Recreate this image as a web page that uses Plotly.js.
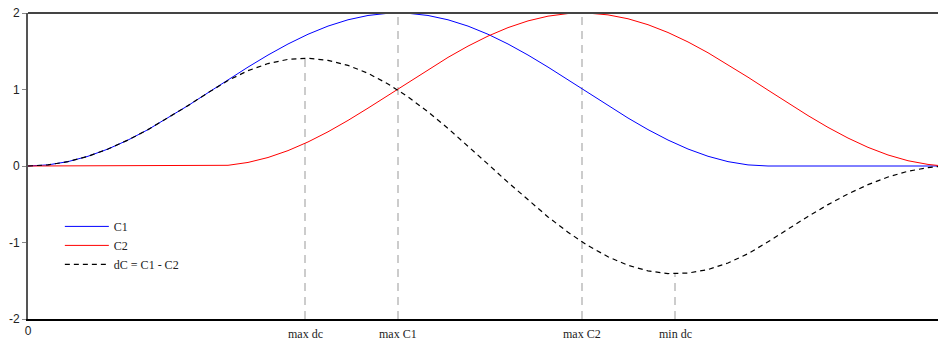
<!DOCTYPE html>
<html>
<head>
<meta charset="utf-8">
<script src="https://cdn.plot.ly/plotly-3.0.1.min.js"></script>
<style>html,body{margin:0;padding:0;background:#fff;}#chart{width:939px;height:345px;}</style>
</head>
<body>
<div id="chart"></div>
<script>
// x samples (arbitrary units, axis shows only the origin)
const xs = [0,2,4,6,8,10,12,14,16,18,20,22,24,26,28,30,32,34,36,38,40,42,44,46,48,50,52,54,56,58,60,62,64,66,68,70,72,74,76,78,80,82,84,86,88,90,91];
const c1 = [0,0.0144,0.0571,0.1270,0.2220,0.3394,0.4757,0.6272,0.7893,0.9576,1.1270,1.2928,1.4502,1.5946,1.7221,1.8287,1.9113,1.9677,1.9964,1.9964,1.9677,1.9113,1.8287,1.7221,1.5946,1.4502,1.2928,1.1270,0.9576,0.7893,0.6272,0.4757,0.3394,0.2220,0.1270,0.0571,0.0144,0,0,0,0,0,0,0,0,0,0];
const c2 = [0,0,0,0,0,0,0,0,0,0,0.0092,0.0464,0.1110,0.2011,0.3142,0.4471,0.5959,0.7563,0.9237,1.0933,1.2602,1.4196,1.5670,1.6980,1.8090,1.8967,1.9586,1.9929,1.9987,1.9757,1.9247,1.8470,1.7450,1.6216,1.4803,1.3251,1.1606,0.9915,0.8227,0.6589,0.5049,0.3652,0.2438,0.1441,0.0690,0.0207,0.0071];
const dc = [0,0.0144,0.0571,0.1270,0.2220,0.3394,0.4757,0.6272,0.7893,0.9576,1.1178,1.2464,1.3392,1.3935,1.4079,1.3816,1.3154,1.2114,1.0727,0.9031,0.7075,0.4917,0.2617,0.0241,-0.2144,-0.4465,-0.6658,-0.8659,-1.0411,-1.1864,-1.2975,-1.3713,-1.4056,-1.3996,-1.3533,-1.2680,-1.1462,-0.9915,-0.8227,-0.6589,-0.5049,-0.3652,-0.2438,-0.1441,-0.0690,-0.0207,-0.0071];

// marked extremes
const markNames = ['max dc','max C1','max C2','min dc'];
const markX = [27.7, 37, 55.4, 64.7];
const markY = [1.408, 2, 2, -1.408];

const yMin = -2, yMax = 2;
const xMin = 0, xMax = 91;
const yTicks = [-2,-1,0,1,2];
const yTickText = ['-2','-1','0','1','2'];

// vertical dropped guide lines
const gx = [], gy = [];
markX.forEach((x,i)=>{ gx.push(x,x,null); gy.push(yMin, markY[i], null); });

const traces = [
  {x: gx, y: gy, mode:'lines', line:{color:'#cccccc', width:2, dash:'8px,6px'}, showlegend:false, hoverinfo:'skip'},
  {x: xs, y: c1, name:'C1', mode:'lines', line:{color:'#0000ff', width:1}},
  {x: xs, y: c2, name:'C2', mode:'lines', line:{color:'#ff0000', width:1}},
  {x: xs, y: dc, name:'dC = C1 - C2', mode:'lines', line:{color:'#000000', width:1.2, dash:'5px,4px'}}
];

const annotations = markNames.map((t,i)=>({
  x: markX[i], y: 0, xref:'x', yref:'paper', yanchor:'top', yshift:-6,
  text: t, showarrow:false, font:{family:'Liberation Serif, Times New Roman, serif', size:12, color:'#222'}
}));

const layout = {
  width: 939, height: 345,
  margin: {l:28, r:1, t:13, b:26},
  paper_bgcolor:'#fff', plot_bgcolor:'#fff',
  showlegend: true,
  legend: {x:0.035, y:0.35, xanchor:'left', yanchor:'top', bgcolor:'rgba(0,0,0,0)', itemwidth:44,
           font:{family:'Liberation Serif, Times New Roman, serif', size:12, color:'#222'}},
  xaxis: {range:[xMin,xMax], showgrid:false, zeroline:false, showline:true, linecolor:'#000', linewidth:1.5,
          tickvals:[0], ticktext:['0'], ticks:'', tickfont:{family:'Liberation Sans, Arial, sans-serif', size:12, color:'#222'}},
  yaxis: {range:[yMin,yMax], showgrid:false, zeroline:false, showline:true, linecolor:'#555', linewidth:2,
          tickvals: yTicks, ticktext: yTickText, ticks:'outside', ticklen:4, tickcolor:'#888', tickwidth:1,
          tickfont:{family:'Liberation Sans, Arial, sans-serif', size:12, color:'#222'}},
  shapes: [{type:'line', xref:'paper', yref:'paper', x0:0, x1:1, y0:1, y1:1, line:{color:'#444', width:2}}],
  annotations: annotations
};

Plotly.newPlot('chart', traces, layout, {displayModeBar:false, staticPlot:true});
</script>
</body>
</html>
